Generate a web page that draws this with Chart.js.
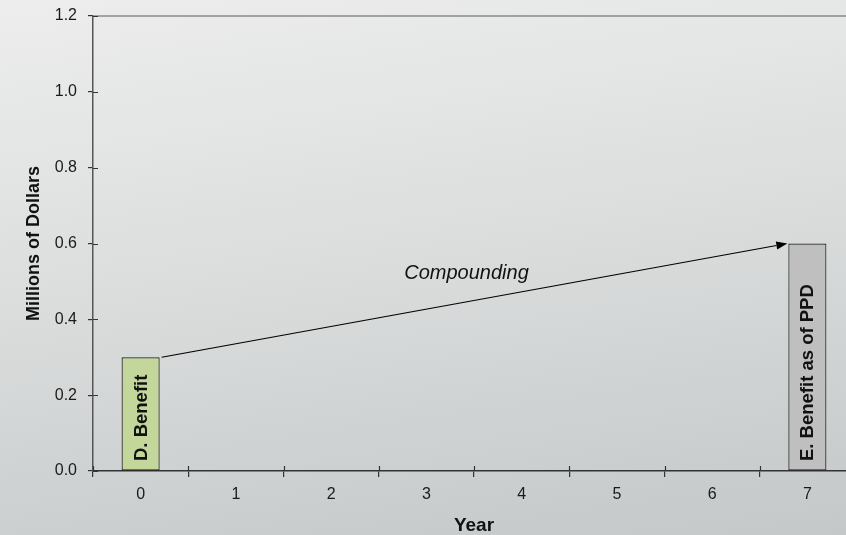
<!DOCTYPE html>
<html>
<head>
<meta charset="utf-8">
<script src="https://cdn.jsdelivr.net/npm/chart.js@4/dist/chart.umd.min.js"></script>
<style>
  html, body { margin: 0; padding: 0; overflow: hidden; }
  body {
    width: 846px; height: 535px;
    background: linear-gradient(172deg, #ededed 0%, #dcdede 45%, #c4c8c8 100%);
  }
  #wrap { width: 855px; height: 535px; position: relative; }
</style>
</head>
<body>
<div id="wrap"><canvas id="c"></canvas></div>
<script>
// Years along the horizontal axis
const years = ['0', '1', '2', '3', '4', '5', '6', '7'];
// Benefit amounts, millions of dollars
const benefitD = [0.3, null, null, null, null, null, null, null];
const benefitE = [null, null, null, null, null, null, null, 0.6];
const barLabels = ['D. Benefit', 'E. Benefit as of PPD'];
const arrowLabel = 'Compounding';
const yTicks = [0, 0.2, 0.4, 0.6, 0.8, 1.0, 1.2];

const FONT = 'Arial, "Liberation Sans", sans-serif';

// Inner tick marks, top frame line, bar captions and the compounding arrow
const decorations = {
  id: 'decorations',
  afterDatasetsDraw(chart) {
    const { ctx, chartArea, scales } = chart;
    const x = scales.x, y = scales.y;
    ctx.save();

    // top frame line
    ctx.strokeStyle = '#8a8a8a';
    ctx.lineWidth = 1.5;
    ctx.beginPath();
    ctx.moveTo(chartArea.left, chartArea.top);
    ctx.lineTo(chartArea.right + 2, chartArea.top);
    ctx.stroke();

    // inside halves of the tick marks
    ctx.strokeStyle = '#333';
    ctx.lineWidth = 1.2;
    ctx.beginPath();
    yTicks.forEach(v => {
      const py = Math.round(y.getPixelForValue(v)) + 0.5;
      ctx.moveTo(chartArea.left, py);
      ctx.lineTo(chartArea.left + 5, py);
    });
    const step = x.getPixelForTick(1) - x.getPixelForTick(0);
    for (let i = 0; i <= years.length; i++) {
      const px = Math.round(x.getPixelForTick(0) - step / 2 + i * step) + 0.5;
      ctx.moveTo(px, chartArea.bottom);
      ctx.lineTo(px, chartArea.bottom - 5);
    }
    ctx.stroke();

    // bar captions, written upward from the base of each bar
    ctx.fillStyle = '#111';
    ctx.font = 'bold 18.5px ' + FONT;
    ctx.textAlign = 'left';
    ctx.textBaseline = 'middle';
    chart.data.datasets.forEach((ds, di) => {
      const meta = chart.getDatasetMeta(di);
      meta.data.forEach((bar, i) => {
        if (ds.data[i] == null) return;
        ctx.save();
        ctx.translate(bar.x + 1, chartArea.bottom - 10);
        ctx.rotate(-Math.PI / 2);
        ctx.fillText(barLabels[di], 0, 0);
        ctx.restore();
      });
    });

    // compounding arrow from the top of the first bar to the top of the last
    const iD = benefitD.findIndex(v => v != null);
    const iE = benefitE.findIndex(v => v != null);
    const barD = chart.getDatasetMeta(0).data[iD];
    const barE = chart.getDatasetMeta(1).data[iE];
    const x0 = barD.x + barD.width / 2 + 2, y0 = y.getPixelForValue(benefitD[iD]);
    const x1 = barE.x - barE.width / 2 - 1, y1 = y.getPixelForValue(benefitE[iE]);
    const ang = Math.atan2(y1 - y0, x1 - x0);
    const headLen = 11, headW = 4;
    ctx.strokeStyle = '#000';
    ctx.fillStyle = '#000';
    ctx.lineWidth = 1.2;
    ctx.beginPath();
    ctx.moveTo(x0, y0);
    ctx.lineTo(x1 - headLen * Math.cos(ang), y1 - headLen * Math.sin(ang));
    ctx.stroke();
    ctx.beginPath();
    ctx.moveTo(x1, y1);
    ctx.lineTo(x1 - headLen * Math.cos(ang) + headW * Math.sin(ang), y1 - headLen * Math.sin(ang) - headW * Math.cos(ang));
    ctx.lineTo(x1 - headLen * Math.cos(ang) - headW * Math.sin(ang), y1 - headLen * Math.sin(ang) + headW * Math.cos(ang));
    ctx.closePath();
    ctx.fill();

    ctx.font = 'italic 20px ' + FONT;
    ctx.textAlign = 'center';
    ctx.textBaseline = 'middle';
    ctx.fillStyle = '#111';
    ctx.fillText(arrowLabel, (x0 + x1) / 2 - 8, (y0 + y1) / 2 - 27);

    ctx.restore();
  }
};

new Chart(document.getElementById('c'), {
  type: 'bar',
  data: {
    labels: years,
    datasets: [
      {
        label: barLabels[0],
        data: benefitD,
        backgroundColor: '#c4d79b',
        borderColor: '#222',
        borderWidth: 1.2,
        borderSkipped: false
      },
      {
        label: barLabels[1],
        data: benefitE,
        backgroundColor: '#bfbfbf',
        borderColor: '#222',
        borderWidth: 1.2,
        borderSkipped: false
      }
    ]
  },
  options: {
    responsive: true,
    maintainAspectRatio: false,
    animation: false,
    events: [],
    grouped: false,
    barPercentage: 0.4,
    categoryPercentage: 1,
    layout: { padding: { top: 16, right: 0, bottom: 0, left: 0 } },
    plugins: { legend: { display: false }, tooltip: { enabled: false } },
    scales: {
      x: {
        offset: true,
        grid: { display: true, offset: true, drawOnChartArea: false, tickLength: 6, color: '#333', lineWidth: 1.2 },
        border: { display: true, color: '#333', width: 1.5 },
        ticks: { color: '#1a1a1a', font: { family: FONT, size: 16 }, padding: 8, maxRotation: 0 },
        title: { display: true, text: 'Year', color: '#111', font: { family: FONT, size: 19, weight: 'bold', lineHeight: 1 }, padding: { top: 0, bottom: 0 } },
        afterFit(s) { s.height = 64; s.paddingLeft = 0; s.paddingRight = 0; }
      },
      y: {
        min: 0,
        max: 1.2,
        grid: { display: true, drawOnChartArea: false, tickLength: 5, color: '#333', lineWidth: 1.2 },
        border: { display: true, color: '#555', width: 1.5 },
        afterBuildTicks(s) { s.ticks = yTicks.map(v => ({ value: v })); },
        ticks: {
          color: '#1a1a1a',
          font: { family: FONT, size: 16 },
          padding: 11,
          callback: v => Number(v).toFixed(1)
        },
        title: { display: true, text: 'Millions of Dollars', color: '#111', font: { family: FONT, size: 18, weight: 'bold' }, padding: { top: 23, bottom: 0 } },
        afterFit(s) { s.width = 93; s.paddingTop = 0; s.paddingBottom = 0; }
      }
    }
  },
  plugins: [decorations]
});
</script>
</body>
</html>
